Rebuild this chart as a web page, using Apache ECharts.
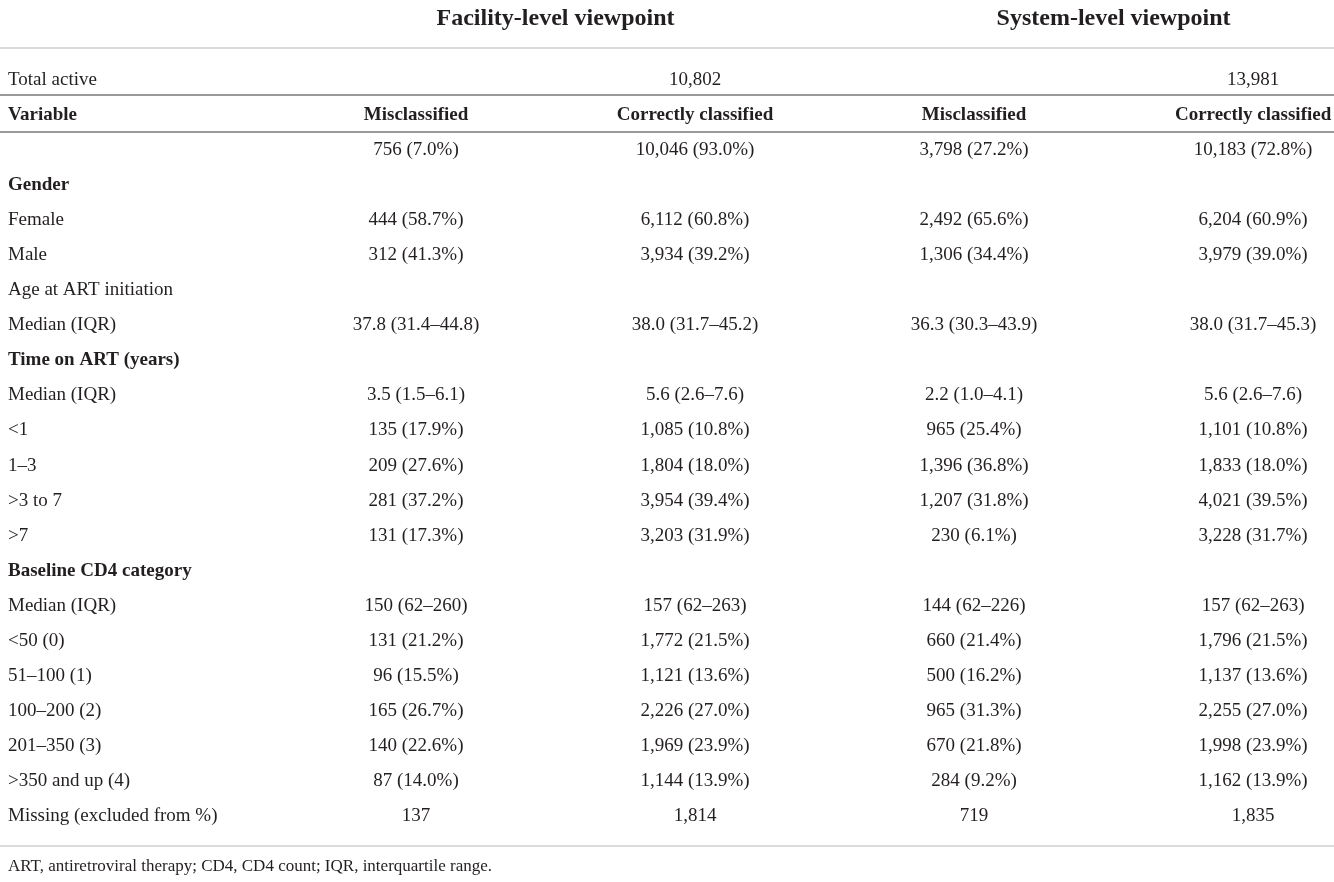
<!DOCTYPE html>
<html>
<head>
<meta charset="utf-8">
<script src="https://cdn.jsdelivr.net/npm/echarts@6/dist/echarts.min.js"></script>
<style>
html, body { margin: 0; padding: 0; background: #fff; }
#main { width: 1334px; height: 882px; }
</style>
</head>
<body>
<div id="main"></div>
<script>
var groupHeaders = ['Facility-level viewpoint', 'System-level viewpoint'];
var columnHeaders = ['Variable', 'Misclassified', 'Correctly classified', 'Misclassified', 'Correctly classified'];
var totalActive = ['Total active', '', '10,802', '', '13,981'];

var rowLabels = ['', 'Gender', 'Female', 'Male', 'Age at ART initiation', 'Median (IQR)',
    'Time on ART (years)', 'Median (IQR)', '<1', '1–3', '>3 to 7', '>7',
    'Baseline CD4 category', 'Median (IQR)', '<50 (0)', '51–100 (1)', '100–200 (2)',
    '201–350 (3)', '>350 and up (4)', 'Missing (excluded from %)'];
var boldLabels = ['Gender', 'Time on ART (years)', 'Baseline CD4 category'];

var facilityMis = ['756 (7.0%)', '', '444 (58.7%)', '312 (41.3%)', '', '37.8 (31.4–44.8)',
    '', '3.5 (1.5–6.1)', '135 (17.9%)', '209 (27.6%)', '281 (37.2%)', '131 (17.3%)',
    '', '150 (62–260)', '131 (21.2%)', '96 (15.5%)', '165 (26.7%)', '140 (22.6%)', '87 (14.0%)', '137'];
var facilityCorrect = ['10,046 (93.0%)', '', '6,112 (60.8%)', '3,934 (39.2%)', '', '38.0 (31.7–45.2)',
    '', '5.6 (2.6–7.6)', '1,085 (10.8%)', '1,804 (18.0%)', '3,954 (39.4%)', '3,203 (31.9%)',
    '', '157 (62–263)', '1,772 (21.5%)', '1,121 (13.6%)', '2,226 (27.0%)', '1,969 (23.9%)', '1,144 (13.9%)', '1,814'];
var systemMis = ['3,798 (27.2%)', '', '2,492 (65.6%)', '1,306 (34.4%)', '', '36.3 (30.3–43.9)',
    '', '2.2 (1.0–4.1)', '965 (25.4%)', '1,396 (36.8%)', '1,207 (31.8%)', '230 (6.1%)',
    '', '144 (62–226)', '660 (21.4%)', '500 (16.2%)', '965 (31.3%)', '670 (21.8%)', '284 (9.2%)', '719'];
var systemCorrect = ['10,183 (72.8%)', '', '6,204 (60.9%)', '3,979 (39.0%)', '', '38.0 (31.7–45.3)',
    '', '5.6 (2.6–7.6)', '1,101 (10.8%)', '1,833 (18.0%)', '4,021 (39.5%)', '3,228 (31.7%)',
    '', '157 (62–263)', '1,796 (21.5%)', '1,137 (13.6%)', '2,255 (27.0%)', '1,998 (23.9%)', '1,162 (13.9%)', '1,835'];

var footnote = 'ART, antiretroviral therapy; CD4, CD4 count; IQR, interquartile range.';

var textColor = '#231f20';
var font = '"Liberation Serif", "DejaVu Serif", serif';

// rows on the y value axis: -1.75 group header, 0 total active, 1 column header, 2.. body
var columns = [rowLabels, facilityMis, facilityCorrect, systemMis, systemCorrect];
var cells = [];
columns.forEach(function (col, c) {
    cells.push([c, 0, totalActive[c], false]);
    cells.push([c, 1, columnHeaders[c], true]);
    col.forEach(function (txt, i) {
        cells.push([c, i + 2, txt, c === 0 && boldLabels.indexOf(txt) >= 0]);
    });
});
var groupCells = [[1.5, -1.75, groupHeaders[0]], [3.5, -1.75, groupHeaders[1]]];
var footCells = [[0, 22.45, footnote]];

var chart = echarts.init(document.getElementById('main'));

function textLabel(offsetX, align) {
    return {
        show: true,
        position: 'inside',
        offset: [offsetX, 0],
        align: align,
        verticalAlign: 'middle',
        color: textColor,
        fontFamily: font,
        fontSize: 19,
        formatter: function (p) {
            if (!p.data[2]) return '';
            return p.data[3] ? '{b|' + p.data[2] + '}' : p.data[2];
        },
        rich: {
            b: { fontWeight: 'bold', fontFamily: font, fontSize: 19, color: textColor }
        }
    };
}

chart.setOption({
    animation: false,
    backgroundColor: '#ffffff',
    grid: { left: 0, right: 0, top: 3, bottom: 3 },
    xAxis: { type: 'value', min: -0.491, max: 4.290, show: false },
    yAxis: { type: 'value', min: -2.2, max: 22.8, inverse: true, show: false },
    series: [
        {
            type: 'scatter',
            symbolSize: 0,
            silent: true,
            itemStyle: { opacity: 1 },
            data: cells.filter(function (d) { return d[0] === 0; }),
            label: textLabel(-129, 'left'),
            markLine: {
                silent: true,
                symbol: 'none',
                label: { show: false },
                data: [
                    { yAxis: -0.92, lineStyle: { color: '#cfcfcf', width: 1.5, type: 'solid', opacity: 1 } },
                    { yAxis: 0.43, lineStyle: { color: '#9a9a9a', width: 2, type: 'solid', opacity: 1 } },
                    { yAxis: 1.48, lineStyle: { color: '#9a9a9a', width: 2, type: 'solid', opacity: 1 } },
                    { yAxis: 21.85, lineStyle: { color: '#cfcfcf', width: 1.5, type: 'solid', opacity: 1 } }
                ]
            }
        },
        {
            type: 'scatter',
            symbolSize: 0,
            silent: true,
            itemStyle: { opacity: 1 },
            data: cells.filter(function (d) { return d[0] !== 0; }),
            label: textLabel(0, 'center')
        },
        {
            type: 'scatter',
            symbolSize: 0,
            silent: true,
            itemStyle: { opacity: 1 },
            data: groupCells,
            label: {
                show: true, position: 'inside', align: 'center', verticalAlign: 'middle',
                color: textColor, fontFamily: font, fontSize: 24, fontWeight: 'bold',
                formatter: function (p) { return p.data[2]; }
            }
        },
        {
            type: 'scatter',
            symbolSize: 0,
            silent: true,
            itemStyle: { opacity: 1 },
            data: footCells,
            label: {
                show: true, position: 'inside', offset: [-129, 0], align: 'left', verticalAlign: 'middle',
                color: textColor, fontFamily: font, fontSize: 17,
                formatter: function (p) { return p.data[2]; }
            }
        }
    ]
});
</script>
</body>
</html>
